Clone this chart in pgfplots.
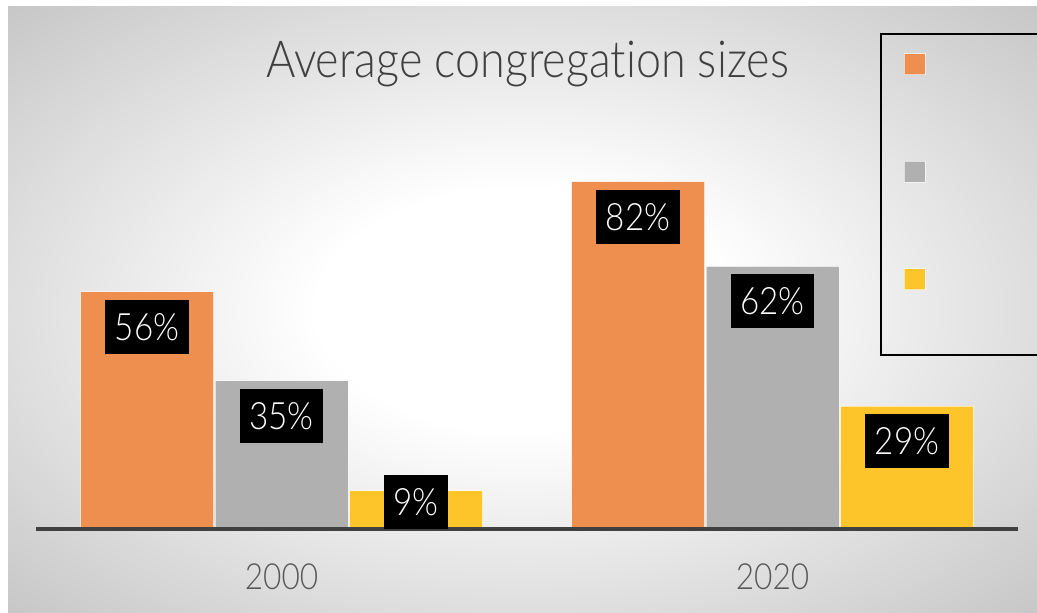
\documentclass[border=0pt]{standalone}
\usepackage{fontspec}
\setmainfont{Lato Light}[FakeStretch=0.88, Ligatures={NoCommon}]
\usepackage{pgfplots}
\usepackage{pgfplotstable}
\pgfplotsset{compat=1.18}
\definecolor{bgedge}{gray}{0.78}
\definecolor{cor}{HTML}{EE8F50}
\definecolor{cgr}{HTML}{B0B0B0}
\definecolor{cye}{HTML}{FDC52A}
\definecolor{axgray}{HTML}{404040}
\definecolor{tickgray}{HTML}{595959}
\definecolor{titlegray}{HTML}{404040}
\pgfdeclareradialshading{bgshade}{\pgfpoint{0bp}{0bp}}{color(0bp)=(white); color(10bp)=(white); color(35.4bp)=(bgedge); color(50bp)=(bgedge)}
\pgfplotstableread{
x o g yv
0 56 35 9
1 82 62 29
}\data
\begin{document}
\begin{tikzpicture}
\useasboundingbox (0,0) rectangle (1037pt,613pt);
\fill[white] (0,0) rectangle (1037pt,613pt);
\shade[shading=bgshade] (8pt,0) rectangle (1037pt,606pt);
\begin{axis}[
  at={(36pt,84pt)}, anchor=south west,
  scale only axis, width=982pt, height=423.5pt,
  xmin=-0.5, xmax=1.5, ymin=0, ymax=100,
  ybar=1.5pt, bar width=133pt,
  axis y line=none, axis x line*=bottom,
  x axis line style={line width=4pt, draw=axgray, -},
  axis on top, clip=false,
  /pgf/number format/assume math mode=true,
  xtick={0,1}, xticklabels={2000,2020},
  major tick length=0pt, xtick style={draw=none},
  xticklabel style={anchor=base, yshift=-61pt, font=\fontsize{36}{40}\selectfont, text=tickgray},
  title={Average congregation sizes},
  title style={at={(axis description cs:0.5005,1.053)}, anchor=base, font=\fontsize{51}{54}\selectfont, text=titlegray, inner sep=0pt},
  nodes near coords={\pgfmathprintnumber{\pgfplotspointmeta}\%},
  nodes near coords style={fill=black, text=white, font=\fontsize{37.7}{40}\selectfont, inner xsep=9.5pt, inner ysep=0pt, minimum height=54pt, anchor=center, yshift={-35+24*(\rawy<15)}},
  legend image code/.code={\draw[#1,line width=1pt] (23pt,-10.5pt) rectangle (44pt,10.5pt); \path[draw=none,fill=none] (0pt,0pt) -- (60pt,0pt);},
  legend style={at={(axis description cs:0.8595,1.1712)}, anchor=north west, draw=black, line width=2pt, fill=none, inner sep=0pt, row sep=1.5pt, column sep=0pt,
    nodes={inner sep=0pt, text width=150pt, text height=30.5pt, text depth=75.5pt, anchor=base}},
]
\addplot[fill=cor, draw=white, draw opacity=0.6, line width=1pt, visualization depends on={\thisrow{o} \as \rawy}] table[x=x,y=o]{\data};
\addlegendentry{~}
\addplot[fill=cgr, draw=white, draw opacity=0.6, line width=1pt, visualization depends on={\thisrow{g} \as \rawy}] table[x=x,y=g]{\data};
\addlegendentry{~}
\addplot[fill=cye, draw=white, draw opacity=0.6, line width=1pt, visualization depends on={\thisrow{yv} \as \rawy}] table[x=x,y=yv]{\data};
\addlegendentry{~}
\end{axis}
\end{tikzpicture}
\end{document}
